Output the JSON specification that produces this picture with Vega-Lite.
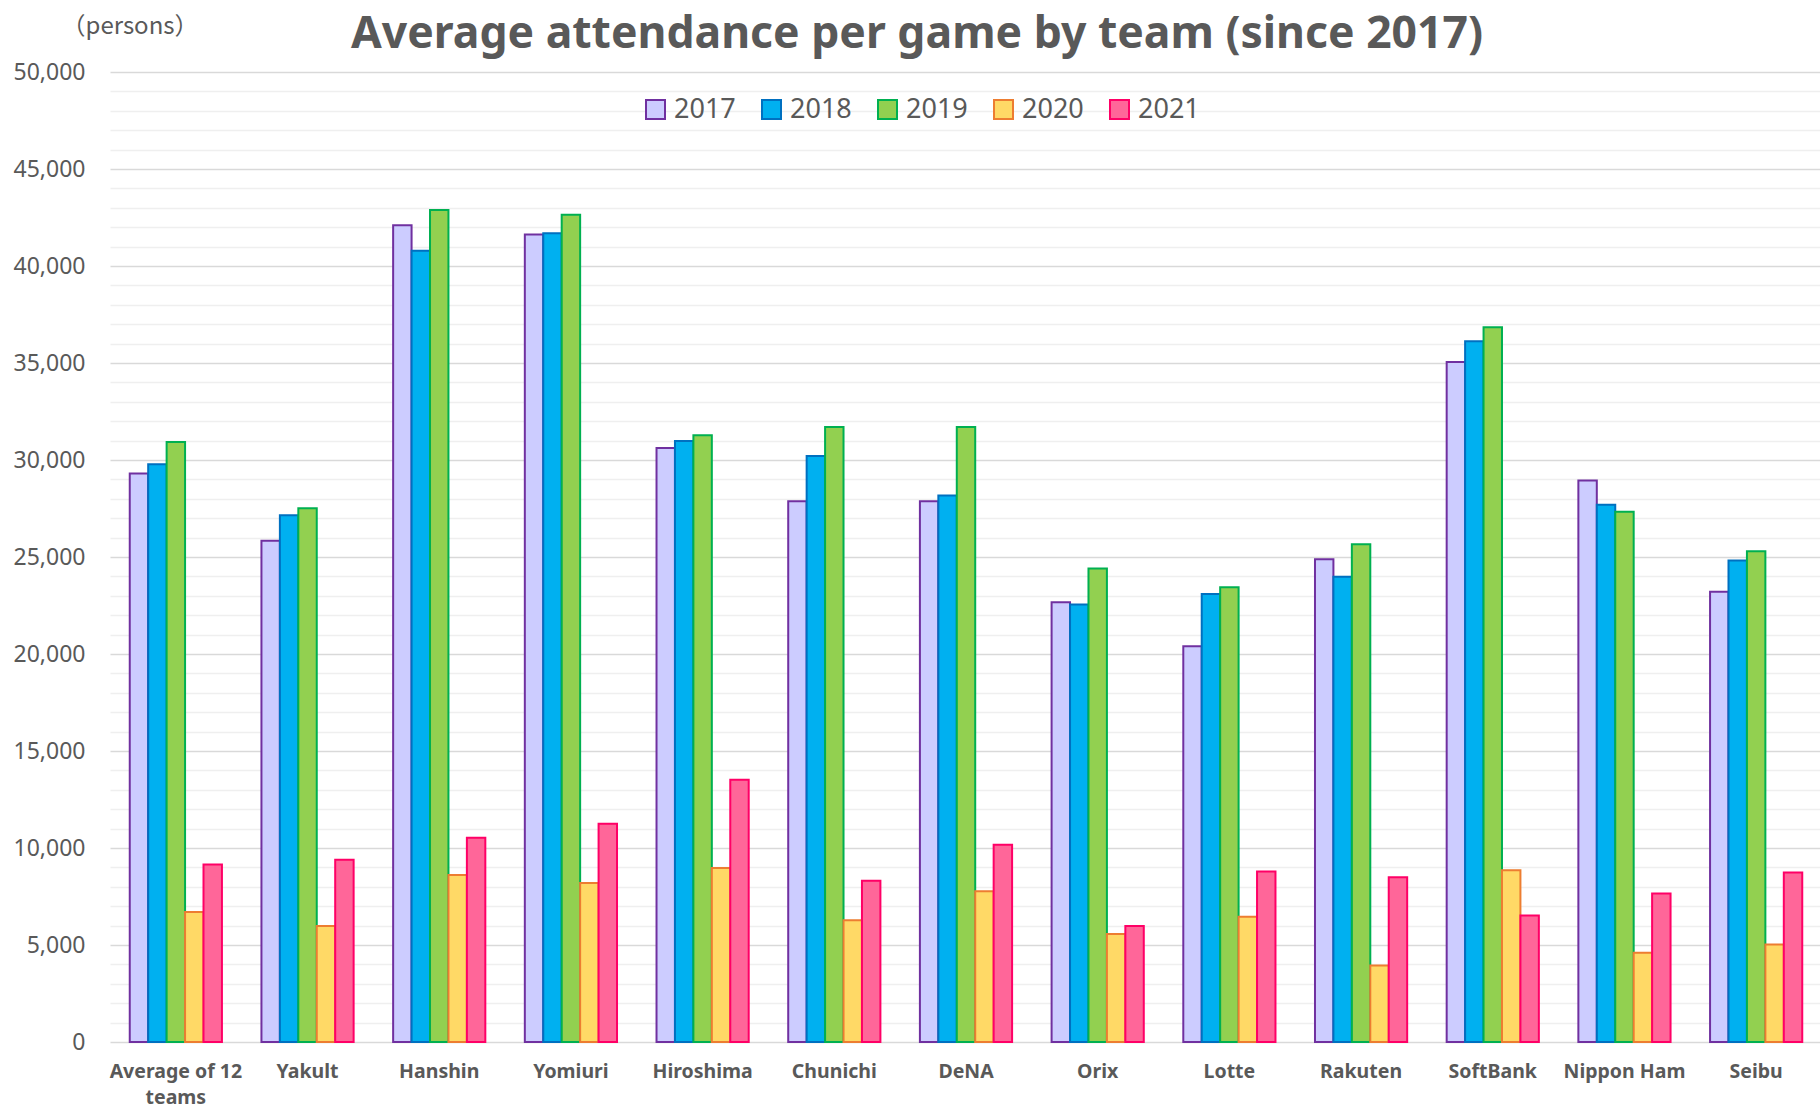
{
  "$schema": "https://vega.github.io/schema/vega-lite/v6.json",
  "width": 1712,
  "height": 970,
  "autosize": {"type": "none"},
  "padding": {"left": 110, "top": 72, "right": 0, "bottom": 66},
  "background": "white",
  "config": {"view": {"stroke": null}, "font": "Noto Sans"},
  "title": {
    "text": "Average attendance per game by team (since 2017)",
    "frame": "group",
    "anchor": "middle",
    "baseline": "alphabetic",
    "offset": -78,
    "dx": -49,
    "font": "Noto Sans",
    "fontSize": 44.5,
    "fontWeight": "bold",
    "color": "#595959"
  },
  "data": {
    "values": [
      {"team": "Average of 12 teams", "year": "2017", "value": 29306},
      {"team": "Average of 12 teams", "year": "2018", "value": 29785},
      {"team": "Average of 12 teams", "year": "2019", "value": 30922},
      {"team": "Average of 12 teams", "year": "2020", "value": 6699},
      {"team": "Average of 12 teams", "year": "2021", "value": 9151},
      {"team": "Yakult", "year": "2017", "value": 25838},
      {"team": "Yakult", "year": "2018", "value": 27154},
      {"team": "Yakult", "year": "2019", "value": 27513},
      {"team": "Yakult", "year": "2020", "value": 5981},
      {"team": "Yakult", "year": "2021", "value": 9390},
      {"team": "Hanshin", "year": "2017", "value": 42106},
      {"team": "Hanshin", "year": "2018", "value": 40790},
      {"team": "Hanshin", "year": "2019", "value": 42884},
      {"team": "Hanshin", "year": "2020", "value": 8613},
      {"team": "Hanshin", "year": "2021", "value": 10527},
      {"team": "Yomiuri", "year": "2017", "value": 41628},
      {"team": "Yomiuri", "year": "2018", "value": 41688},
      {"team": "Yomiuri", "year": "2019", "value": 42645},
      {"team": "Yomiuri", "year": "2020", "value": 8194},
      {"team": "Yomiuri", "year": "2021", "value": 11244},
      {"team": "Hiroshima", "year": "2017", "value": 30622},
      {"team": "Hiroshima", "year": "2018", "value": 30981},
      {"team": "Hiroshima", "year": "2019", "value": 31280},
      {"team": "Hiroshima", "year": "2020", "value": 8972},
      {"team": "Hiroshima", "year": "2021", "value": 13517},
      {"team": "Chunichi", "year": "2017", "value": 27872},
      {"team": "Chunichi", "year": "2018", "value": 30204},
      {"team": "Chunichi", "year": "2019", "value": 31699},
      {"team": "Chunichi", "year": "2020", "value": 6280},
      {"team": "Chunichi", "year": "2021", "value": 8314},
      {"team": "DeNA", "year": "2017", "value": 27872},
      {"team": "DeNA", "year": "2018", "value": 28171},
      {"team": "DeNA", "year": "2019", "value": 31699},
      {"team": "DeNA", "year": "2020", "value": 7775},
      {"team": "DeNA", "year": "2021", "value": 10168},
      {"team": "Orix", "year": "2017", "value": 22668},
      {"team": "Orix", "year": "2018", "value": 22548},
      {"team": "Orix", "year": "2019", "value": 24402},
      {"team": "Orix", "year": "2020", "value": 5562},
      {"team": "Orix", "year": "2021", "value": 5981},
      {"team": "Lotte", "year": "2017", "value": 20395},
      {"team": "Lotte", "year": "2018", "value": 23087},
      {"team": "Lotte", "year": "2019", "value": 23446},
      {"team": "Lotte", "year": "2020", "value": 6459},
      {"team": "Lotte", "year": "2021", "value": 8792},
      {"team": "Rakuten", "year": "2017", "value": 24881},
      {"team": "Rakuten", "year": "2018", "value": 23984},
      {"team": "Rakuten", "year": "2019", "value": 25658},
      {"team": "Rakuten", "year": "2020", "value": 3947},
      {"team": "Rakuten", "year": "2021", "value": 8493},
      {"team": "SoftBank", "year": "2017", "value": 35049},
      {"team": "SoftBank", "year": "2018", "value": 36125},
      {"team": "SoftBank", "year": "2019", "value": 36843},
      {"team": "SoftBank", "year": "2020", "value": 8852},
      {"team": "SoftBank", "year": "2021", "value": 6519},
      {"team": "Nippon Ham", "year": "2017", "value": 28948},
      {"team": "Nippon Ham", "year": "2018", "value": 27693},
      {"team": "Nippon Ham", "year": "2019", "value": 27334},
      {"team": "Nippon Ham", "year": "2020", "value": 4605},
      {"team": "Nippon Ham", "year": "2021", "value": 7656},
      {"team": "Seibu", "year": "2017", "value": 23206},
      {"team": "Seibu", "year": "2018", "value": 24821},
      {"team": "Seibu", "year": "2019", "value": 25299},
      {"team": "Seibu", "year": "2020", "value": 5024},
      {"team": "Seibu", "year": "2021", "value": 8732}
    ]
  },
  "mark": {"type": "bar", "strokeWidth": 2},
  "encoding": {
    "x": {
      "field": "team",
      "type": "nominal",
      "sort": null,
      "scale": {"paddingInner": 0.3, "paddingOuter": 0.15},
      "axis": {
        "title": null,
        "labelAngle": 0,
        "domain": false,
        "ticks": false,
        "labelFont": "Noto Sans",
        "labelFontSize": 19.5,
        "labelFontWeight": "bold",
        "labelColor": "#595959",
        "labelPadding": 20,
        "labelLineHeight": 26,
        "labelExpr": "datum.label == 'Average of 12 teams' ? ['Average of 12', 'teams'] : datum.label"
      }
    },
    "xOffset": {"field": "year", "type": "nominal", "sort": "ascending"},
    "y": {
      "field": "value",
      "type": "quantitative",
      "scale": {"domain": [0, 50000], "nice": false},
      "axis": {
        "title": "（persons）",
        "titleAngle": 0,
        "titleAlign": "left",
        "titleBaseline": "middle",
        "titleX": -49,
        "titleY": -46,
        "titleFont": "Noto Sans CJK JP",
        "titleFontSize": 24,
        "titleFontWeight": "normal",
        "titleColor": "#595959",
        "values": [0,1000,2000,3000,4000,5000,6000,7000,8000,9000,10000,11000,12000,13000,14000,15000,16000,17000,18000,19000,20000,21000,22000,23000,24000,25000,26000,27000,28000,29000,30000,31000,32000,33000,34000,35000,36000,37000,38000,39000,40000,41000,42000,43000,44000,45000,46000,47000,48000,49000,50000],
        "labelExpr": "datum.value % 5000 === 0 ? format(datum.value, ',') : ''",
        "labelFont": "Noto Sans",
        "labelFontSize": 23,
        "labelColor": "#595959",
        "labelPadding": 25,
        "domain": false,
        "ticks": false,
        "grid": true,
        "gridColor": {"condition": {"test": "datum.value % 5000 === 0", "value": "#d9d9d9"}, "value": "#efefef"},
        "gridWidth": 1.6
      }
    },
    "fill": {
      "field": "year",
      "type": "nominal",
      "scale": {"domain": ["2017", "2018", "2019", "2020", "2021"], "range": ["#ccccff", "#00b0f0", "#92d050", "#ffd966", "#ff6699"]},
      "legend": {
        "title": null,
        "orient": "none",
        "direction": "horizontal",
        "legendX": 532,
        "legendY": 24,
        "symbolType": "square",
        "symbolSize": 361,
        "symbolStrokeWidth": 2,
        "labelFont": "Noto Sans",
        "labelFontSize": 27,
        "labelColor": "#595959",
        "labelOffset": 5,
        "columnPadding": 22
      }
    },
    "stroke": {
      "field": "year",
      "type": "nominal",
      "scale": {"domain": ["2017", "2018", "2019", "2020", "2021"], "range": ["#7030a0", "#0070c0", "#00b050", "#ed7d31", "#ff0066"]},
      "legend": {
        "title": null,
        "orient": "none",
        "direction": "horizontal",
        "legendX": 532,
        "legendY": 24,
        "symbolType": "square",
        "symbolSize": 361,
        "symbolStrokeWidth": 2,
        "labelFont": "Noto Sans",
        "labelFontSize": 27,
        "labelColor": "#595959",
        "labelOffset": 5,
        "columnPadding": 22
      }
    }
  }
}
